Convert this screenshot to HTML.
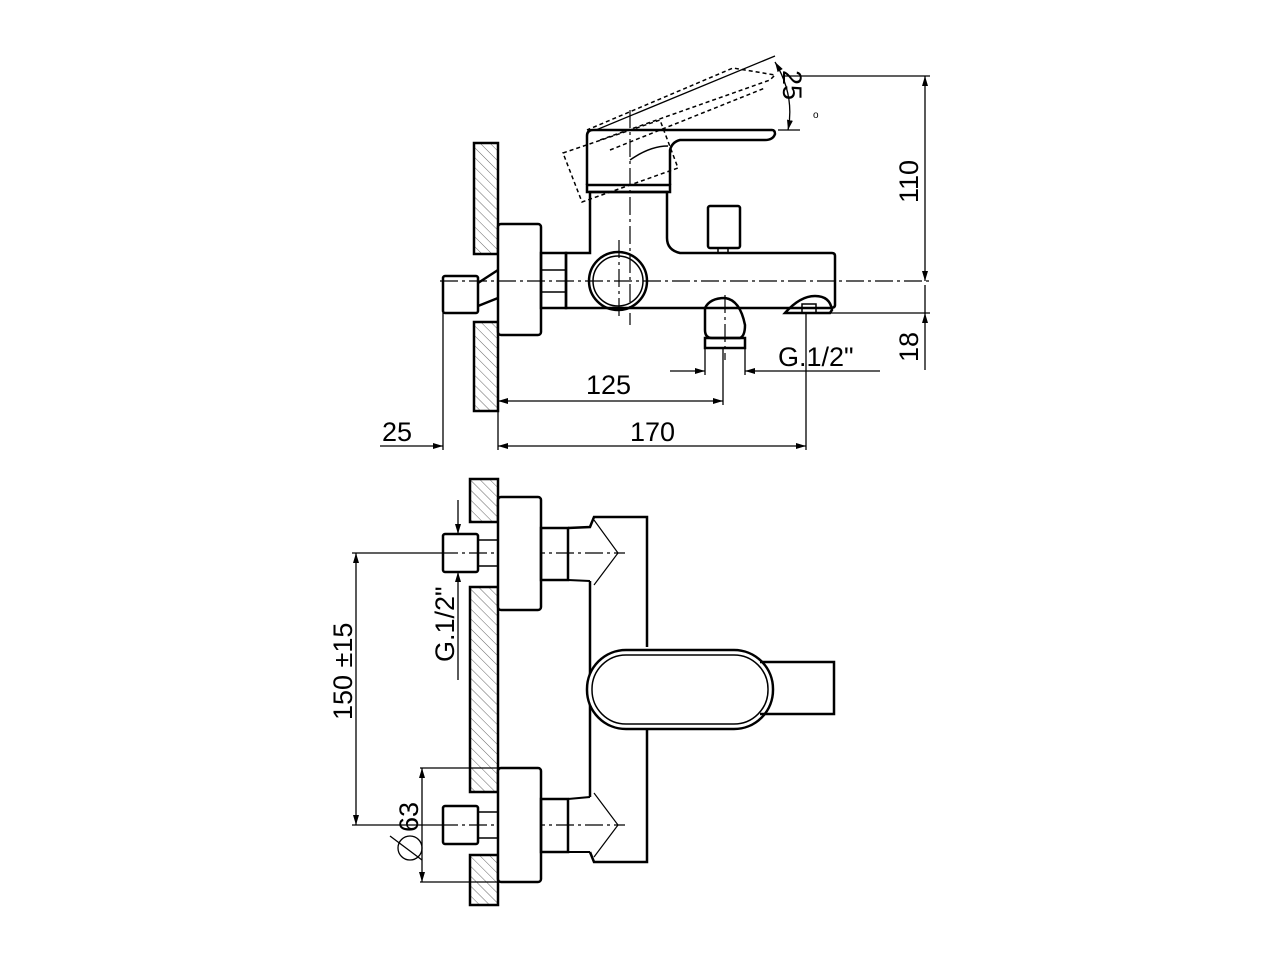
<!DOCTYPE html>
<html><head><meta charset="utf-8"><style>
html,body{margin:0;padding:0;background:#fff;}
svg{display:block;}
text{font-family:"Liberation Sans",sans-serif;font-size:27px;fill:#000;}
</style></head><body>
<svg width="1280" height="960" viewBox="0 0 1280 960" xmlns="http://www.w3.org/2000/svg">
<defs>
<pattern id="h" width="7" height="7" patternUnits="userSpaceOnUse" patternTransform="rotate(-45)">
<line x1="0" y1="0" x2="0" y2="7" stroke="#666" stroke-width="1"/></pattern>
<marker id="a" viewBox="0 0 10 6" refX="10" refY="3" markerWidth="10" markerHeight="6" orient="auto-start-reverse" markerUnits="userSpaceOnUse"><path d="M0,0L10,3L0,6z" fill="#000"/></marker>
</defs>
<g fill="none" stroke="#000" stroke-width="2.5">
<rect x="474" y="143" width="24" height="111" fill="url(#h)"/>
<rect x="474" y="322" width="24" height="89" fill="url(#h)"/>
<rect x="498" y="224" width="43" height="111" rx="3" fill="#fff"/>
<rect x="443" y="276" width="35" height="37" rx="2"/>
<path d="M478 283 L498 270 M478 306 L498 298"/>
<rect x="541" y="253" width="25" height="55"/>
<line x1="541" y1="270" x2="566" y2="270" stroke-width="1.5"/>
<line x1="541" y1="292" x2="566" y2="292" stroke-width="1.5"/>
<path d="M566 253 H590 V192 H667 V238 Q667 250 680 253 H832 Q835 253 835 256 V305 Q835 308 830 308 H566 Z"/>
<circle cx="618" cy="281" r="29"/>
<circle cx="618" cy="281" r="25" stroke-width="1.5"/>
<path d="M587 185 H670 V192 H587 Z"/>
<path d="M587 185 V136 Q587 130 593 130 H772 Q775 130 775 134 Q773 140 765 140 H680 Q672 142 670 150 V185"/>
<path d="M630 160 Q650 146 668 146" stroke-width="1.5"/>
<rect x="708" y="206" width="32" height="42" rx="2"/>
<path d="M718 248 V253 M728 248 V253" stroke-width="1.5"/>
<path d="M705 308 V330 Q705 338 712 338 H740 Q745 336 745 325 Q740 300 725 298 Q710 298 705 308"/>
<rect x="705" y="338" width="40" height="10"/>
<path d="M785 313 Q800 296 815 296 Q830 296 832 310 L830 313 Z"/>
<rect x="802" y="304" width="14" height="9" stroke-width="1.5"/>
</g>
<g fill="none" stroke="#000" stroke-width="1.5" stroke-dasharray="4,3">
<path d="M563 153 L660 120 L678 168 L582 202 Z"/>
<path d="M600 140 L770 80 L775 75 L733 68 L587 130"/>
<path d="M610 150 L765 88"/>
</g>
<g stroke="#000" stroke-width="1.2" stroke-dasharray="18,4,3,4" fill="none">
<line x1="440" y1="281" x2="930" y2="281"/>
<line x1="630" y1="110" x2="630" y2="325"/>
<line x1="619" y1="240" x2="619" y2="320"/>
<line x1="725" y1="295" x2="725" y2="360"/>
<line x1="440" y1="553" x2="625" y2="553"/>
<line x1="440" y1="825" x2="625" y2="825"/>
</g>
<g stroke="#000" stroke-width="1.3" fill="none">
<line x1="783" y1="76" x2="930" y2="76"/>
<line x1="830" y1="313" x2="930" y2="313"/>
<line x1="925" y1="76" x2="925" y2="281" marker-start="url(#a)" marker-end="url(#a)"/>
<line x1="925" y1="313" x2="925" y2="370" marker-start="url(#a)"/>
<line x1="925" y1="285" x2="925" y2="313"/>
<line x1="596" y1="130" x2="775" y2="56"/>
<path d="M775 62 Q795 95 788 130" marker-start="url(#a)" marker-end="url(#a)"/>
<line x1="778" y1="130" x2="800" y2="130"/>
<line x1="443" y1="313" x2="443" y2="450"/>
<line x1="498" y1="411" x2="498" y2="450"/>
<line x1="723" y1="348" x2="723" y2="405"/>
<line x1="806" y1="313" x2="806" y2="450"/>
<line x1="705" y1="348" x2="705" y2="375"/>
<line x1="745" y1="348" x2="745" y2="375"/>
<line x1="670" y1="371" x2="705" y2="371" marker-end="url(#a)"/>
<line x1="780" y1="371" x2="745" y2="371" marker-end="url(#a)"/>
<line x1="780" y1="371" x2="880" y2="371"/>
<line x1="498" y1="401" x2="723" y2="401" marker-start="url(#a)" marker-end="url(#a)"/>
<line x1="498" y1="446" x2="806" y2="446" marker-start="url(#a)" marker-end="url(#a)"/>
<line x1="380" y1="446" x2="443" y2="446" marker-end="url(#a)"/>
</g>
<text x="586" y="394">125</text>
<text x="630" y="441">170</text>
<text x="382" y="441">25</text>
<text x="778" y="366">G.1/2"</text>
<text transform="translate(918,203) rotate(-90)">110</text>
<text transform="translate(918,362) rotate(-90)">18</text>
<text transform="translate(783,70) rotate(90)">25</text>
<text x="813" y="118" style="font-size:10px">o</text>

<g fill="none" stroke="#000" stroke-width="2.5">
<rect x="470" y="479" width="28" height="43" fill="url(#h)"/>
<rect x="470" y="587" width="28" height="205" fill="url(#h)"/>
<rect x="470" y="855" width="28" height="50" fill="url(#h)"/>
<rect x="498" y="497" width="43" height="113" rx="3" fill="#fff"/>
<rect x="498" y="768" width="43" height="114" rx="3" fill="#fff"/>
<rect x="443" y="534" width="35" height="38" rx="2"/>
<rect x="443" y="806" width="35" height="38" rx="2"/>
<path d="M478 540 H498 M478 566 H498 M478 812 H498 M478 838 H498" stroke-width="1.5"/>
<rect x="541" y="528" width="27" height="52"/>
<rect x="541" y="799" width="27" height="53"/>
<path d="M568 528 L590 527 L594 517 H647 V647"/>
<path d="M590 581 V797"/>
<path d="M647 730 V862 H594 L590 852"/>
<path d="M568 580 L590 581 M568 799 L590 797 M568 852 L590 852" stroke-width="2"/>
<path d="M594 520 L618 553 L594 585 M594 793 L618 825 L594 857" stroke-width="1.2"/>
<rect x="587" y="650" width="186" height="79" rx="39" fill="#fff"/>
<rect x="592" y="655" width="176" height="69" rx="34" stroke-width="1.5"/>
<path d="M760 662 H834 V714 H760"/>
</g>
<g stroke="#000" stroke-width="1.3" fill="none">
<line x1="352" y1="553" x2="440" y2="553"/>
<line x1="352" y1="825" x2="440" y2="825"/>
<line x1="356" y1="553" x2="356" y2="825" marker-start="url(#a)" marker-end="url(#a)"/>
<line x1="420" y1="768" x2="498" y2="768"/>
<line x1="420" y1="882" x2="498" y2="882"/>
<line x1="422" y1="768" x2="422" y2="882" marker-start="url(#a)" marker-end="url(#a)"/>
<line x1="458" y1="500" x2="458" y2="534" marker-end="url(#a)"/>
<line x1="458" y1="680" x2="458" y2="572" marker-end="url(#a)"/>
<circle cx="410" cy="848" r="12"/>
<line x1="390" y1="836" x2="422" y2="860"/>
</g>
<text transform="translate(352,720) rotate(-90)">150 ±15</text>
<text transform="translate(418,832) rotate(-90)">63</text>
<text transform="translate(454,662) rotate(-90)">G.1/2"</text>
</svg>
</body></html>
